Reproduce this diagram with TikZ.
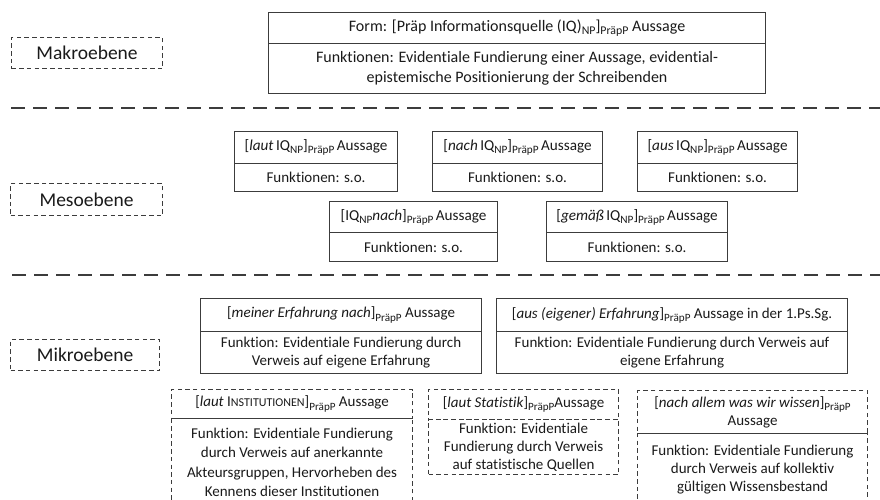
\documentclass[tikz,border=0pt]{standalone}
\usepackage{graphicx}
\usepackage{fontspec}
\setmainfont{Carlito}[Ligatures=NoCommon]
\definecolor{ink}{HTML}{1A1A1A}
\definecolor{frame}{HTML}{3C3C3C}
% subscript labels: slightly reduced and lowered
\newcommand{\sbt}[1]{\raisebox{-0.45ex}{\scalebox{0.74}{#1}}}
\newcommand{\fs}[2]{\fontsize{#1}{#2}\selectfont}
\newcommand{\tsp}{\hspace{0.16em}}
\tikzset{
  cell/.style={draw=frame, line width=1.1pt, inner sep=0pt, anchor=north west,
    align=center, text=ink},
  dcell/.style={cell, dash pattern=on 4.5pt off 3.2pt},
  level/.style={draw=frame, line width=1.1pt, dash pattern=on 4.5pt off 3.2pt,
    inner sep=0pt, anchor=north west, text=ink, font=\fs{19.5}{23}},
  sep/.style={draw=frame, line width=2.2pt, dash pattern=on 14pt off 8pt},
  makro/.style={font=\fs{16}{20}},
  mesohead/.style={font=\fs{15.2}{18}},
  mesobody/.style={font=\fs{15}{18}},
  mikro/.style={font=\fs{15}{18}},
  mikrolow/.style={font=\fs{15}{19.5}},
}
\begin{document}
\begin{tikzpicture}[x=1pt, y=-1pt]
\clip (0,0) rectangle (880,499);
\fill[white] (0,0) rectangle (880,499);

% level labels
\node[level, minimum width=151pt, minimum height=31pt] (makro) at (11,37) {Makroebene};
\node[level, minimum width=152pt, minimum height=32pt] (meso) at (10,183) {Mesoebene};
\node[level, minimum width=149pt, minimum height=31pt] (mikro) at (10,339) {Mikroebene};

% level separators
\coordinate (s1a) at (11,108); \coordinate (s1b) at (884,108);
\coordinate (s2a) at (12,275); \coordinate (s2b) at (884,275);
\draw[sep] (s1a) -- (s1b);
\draw[sep] (s2a) -- (s2b);

% macro level
\node[cell, makro, minimum width=497pt, minimum height=31pt] (formH) at (268,12)
  {Form: [Präp Informationsquelle (IQ)\sbt{NP}]\sbt{PräpP} Aussage};
\node[cell, makro, minimum width=497pt, minimum height=50pt] (formB) at (268,43)
  {Funktionen: Evidentiale Fundierung einer Aussage, evidential-\\epistemische Positionierung der Schreibenden};

% meso level
\node[cell, mesohead, minimum width=163pt, minimum height=32pt] (lautH) at (234,131)
  {[\textit{laut}\tsp IQ\sbt{NP}]\sbt{PräpP}\tsp Aussage};
\node[cell, mesobody, minimum width=163pt, minimum height=28pt] (lautB) at (234,163)
  {Funktionen: s.o.};
\node[cell, mesohead, minimum width=170pt, minimum height=32pt] (nachH) at (432,131)
  {[\textit{nach}\tsp IQ\sbt{NP}]\sbt{PräpP}\tsp Aussage};
\node[cell, mesobody, minimum width=170pt, minimum height=28pt] (nachB) at (432,163)
  {Funktionen: s.o.};
\node[cell, mesohead, minimum width=160pt, minimum height=32pt] (ausH) at (637,131)
  {[\textit{aus}\tsp IQ\sbt{NP}]\sbt{PräpP}\tsp Aussage};
\node[cell, mesobody, minimum width=160pt, minimum height=28pt] (ausB) at (637,163)
  {Funktionen: s.o.};
\node[cell, mesohead, minimum width=168pt, minimum height=31pt] (iqnH) at (329,201)
  {[IQ\sbt{NP}\textit{nach}]\sbt{PräpP}\tsp Aussage};
\node[cell, mesobody, minimum width=168pt, minimum height=29pt] (iqnB) at (329,232)
  {Funktionen: s.o.};
\node[cell, mesohead, minimum width=181pt, minimum height=31pt] (gemH) at (546,201)
  {[\textit{gemäß}\tsp IQ\sbt{NP}]\sbt{PräpP}\tsp Aussage};
\node[cell, mesobody, minimum width=181pt, minimum height=29pt] (gemB) at (546,232)
  {Funktionen: s.o.};

% micro level
\node[cell, mikro, minimum width=281pt, minimum height=33pt] (meinH) at (200,298)
  {[\textit{meiner Erfahrung nach}]\sbt{PräpP} Aussage};
\node[cell, mikro, minimum width=281pt, minimum height=42pt] (meinB) at (200,331)
  {Funktion: Evidentiale Fundierung durch\\Verweis auf eigene Erfahrung};
\node[cell, mikro, minimum width=351pt, minimum height=33pt] (eigH) at (496,298)
  {[\textit{aus (eigener) Erfahrung}]\sbt{PräpP} Aussage in der 1.Ps.Sg.};
\node[cell, mikro, minimum width=351pt, minimum height=42pt] (eigB) at (496,331)
  {Funktion: Evidentiale Fundierung durch Verweis auf\\eigene Erfahrung};

\node[dcell, mikrolow, minimum width=241pt, minimum height=29pt] (instH) at (171,389)
  {[\textit{laut} I{\fs{12}{14}NSTITUTIONEN}]\sbt{PräpP} Aussage};
\node[dcell, mikrolow, minimum width=241pt, minimum height=88pt] (instB) at (171,418)
  {Funktion: Evidentiale Fundierung\\durch Verweis auf anerkannte\\Akteursgruppen, Hervorheben des\\Kennens dieser Institutionen};
\node[dcell, mikrolow, minimum width=190pt, minimum height=30pt] (statH) at (428,389)
  {[\textit{laut Statistik}]\sbt{PräpP}Aussage};
\node[dcell, mikro, minimum width=190pt, minimum height=55pt] (statB) at (428,419)
  {Funktion: Evidentiale\\Fundierung durch Verweis\\auf statistische Quellen};
\node[dcell, mikro, minimum width=230pt, minimum height=43pt] (allH) at (637,390)
  {[\textit{nach allem was wir wissen}]\sbt{PräpP}\\Aussage};
\node[dcell, mikro, minimum width=230pt, minimum height=72pt] (allB) at (637,433)
  {Funktion: Evidentiale Fundierung\\durch Verweis auf kollektiv\\gültigen Wissensbestand};
\end{tikzpicture}
\end{document}
